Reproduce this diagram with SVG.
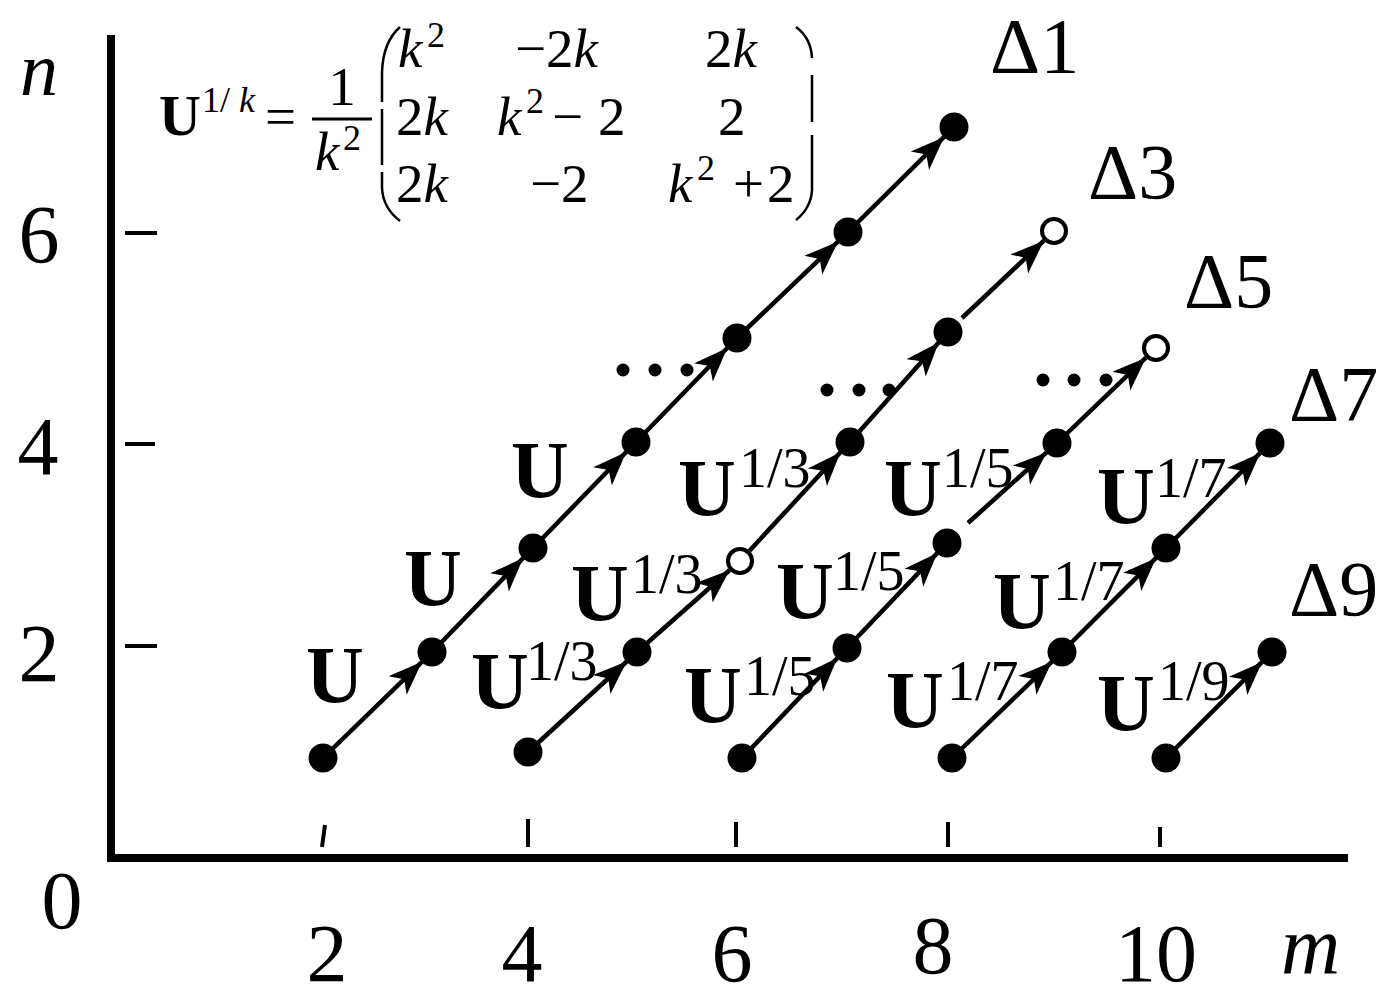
<svg xmlns="http://www.w3.org/2000/svg" width="1389" height="990" viewBox="0 0 1389 990">
<defs>
<style>
text{font-family:"Liberation Serif","Times New Roman",serif;fill:#000}
.ax{font-size:82px}
.it{font-style:italic}
.U{font-size:80px;font-weight:bold}
.sup{font-size:56px}
.dl{font-size:78px}
.mx{font-size:55px}
.ms{font-size:36px}
.conn{stroke:#000;stroke-width:4.5;fill:none;marker-end:url(#ah)}
.axis{stroke:#000;stroke-width:8;fill:none}
.tick{stroke:#000;stroke-width:4;fill:none}
.par{stroke:#000;stroke-width:2.5;fill:none}
.node{fill:#000}
.open{fill:#fff;stroke:#000;stroke-width:4}
.dot{fill:#000}
</style>
<marker id="ah" markerUnits="userSpaceOnUse" viewBox="0 0 36 28" markerWidth="36" markerHeight="28" refX="34" refY="14" orient="auto">
<path d="M0,1 L34,14 L0,27 L9,14 Z" fill="#000"/>
</marker>
</defs>
<rect width="1389" height="990" fill="#fff"/>

<g id="axes">
<line class="axis" x1="111" y1="35" x2="111" y2="862"/>
<line class="axis" x1="107" y1="858" x2="1348" y2="858"/>
<line class="tick" x1="125" y1="233" x2="157" y2="233"/>
<line class="tick" x1="125" y1="444" x2="155" y2="444"/>
<line class="tick" x1="125" y1="646" x2="157" y2="646"/>
<line class="tick" x1="325" y1="825" x2="322" y2="847"/>
<line class="tick" x1="528" y1="819" x2="528" y2="847"/>
<line class="tick" x1="736" y1="822" x2="736" y2="847"/>
<line class="tick" x1="948" y1="822" x2="948" y2="847"/>
<line class="tick" x1="1160" y1="827" x2="1160" y2="847"/>
<text class="ax it" x="20" y="95" style="font-size:76px">n</text>
<text class="ax" x="39" y="262" text-anchor="middle">6</text>
<text class="ax" x="38" y="474" text-anchor="middle">4</text>
<text class="ax" x="39" y="681" text-anchor="middle">2</text>
<text class="ax" x="62" y="928" text-anchor="middle">0</text>
<text class="ax" x="327" y="981" text-anchor="middle">2</text>
<text class="ax" x="522" y="981" text-anchor="middle">4</text>
<text class="ax" x="732" y="981" text-anchor="middle">6</text>
<text class="ax" x="933" y="973" text-anchor="middle">8</text>
<text class="ax" x="1156" y="981" text-anchor="middle">10</text>
<text class="ax it" x="1281" y="973">m</text>
</g>

<g id="formula">
<text class="U" x="159" y="135" style="font-size:58px">U</text>
<text class="ms" x="202" y="112">1/ <tspan class="it">k</tspan></text>
<text class="mx" x="265" y="135">=</text>
<text class="mx" x="342" y="105" text-anchor="middle">1</text>
<line x1="312" y1="119" x2="372" y2="119" stroke="#000" stroke-width="3"/>
<text class="mx it" x="315" y="170">k</text>
<text class="ms" x="343" y="150">2</text>
<path class="par" d="M400,27 Q383,42 382,72 L382,102"/>
<path class="par" d="M382,109 L382,165"/>
<path class="par" d="M382,172 L382,188 Q383,208 400,221"/>
<path class="par" d="M796,27 Q811,38 812,58"/>
<path class="par" d="M812,75 L812,122"/>
<path class="par" d="M812,135 L812,190 Q811,208 796,220"/>
<text class="mx it" x="398" y="67">k</text>
<text class="ms" x="427" y="47">2</text>
<text class="mx" x="515" y="67">−2<tspan class="it">k</tspan></text>
<text class="mx" x="705" y="67">2<tspan class="it">k</tspan></text>
<text class="mx" x="396" y="135">2<tspan class="it">k</tspan></text>
<text class="mx it" x="497" y="135">k</text>
<text class="ms" x="526" y="113">2</text>
<text class="mx" x="552" y="135">−</text>
<text class="mx" x="598" y="135">2</text>
<text class="mx" x="718" y="135">2</text>
<text class="mx" x="396" y="202">2<tspan class="it">k</tspan></text>
<text class="mx" x="530" y="202">−2</text>
<text class="mx it" x="668" y="202">k</text>
<text class="ms" x="697" y="180">2</text>
<text class="mx" x="733" y="202">+</text>
<text class="mx" x="767" y="202">2</text>
</g>

<g id="connectors">
<line class="conn" x1="323" y1="758" x2="422.0" y2="661.8"/>
<line class="conn" x1="432" y1="652" x2="523.2" y2="558.0"/>
<line class="conn" x1="533" y1="548" x2="626.2" y2="452.0"/>
<line class="conn" x1="636" y1="442" x2="727.2" y2="348.0"/>
<line class="conn" x1="737" y1="338" x2="837.9" y2="241.7"/>
<line class="conn" x1="848" y1="232" x2="944.1" y2="136.9"/>
<line class="conn" x1="528" y1="752" x2="626.7" y2="661.5"/>
<line class="conn" x1="637" y1="652" x2="729.5" y2="570.3"/>
<line class="conn" x1="749.5" y1="550.7" x2="840.5" y2="452.3"/>
<line class="conn" x1="850" y1="442" x2="938.7" y2="342.5"/>
<line class="conn" x1="962" y1="318" x2="1043.9" y2="240.7"/>
<line class="conn" x1="742" y1="758" x2="837.3" y2="658.1"/>
<line class="conn" x1="847" y1="648" x2="937.3" y2="553.1"/>
<line class="conn" x1="968" y1="523" x2="1046.6" y2="452.4"/>
<line class="conn" x1="1057" y1="443" x2="1145.9" y2="357.7"/>
<line class="conn" x1="952" y1="758" x2="1051.9" y2="661.7"/>
<line class="conn" x1="1062" y1="652" x2="1156.1" y2="557.9"/>
<line class="conn" x1="1166" y1="548" x2="1260.2" y2="452.9"/>
<line class="conn" x1="1166" y1="758" x2="1262.1" y2="661.9"/>
</g>

<g id="chain-d1">
<g id="d1-n1"><circle class="node" cx="323" cy="758" r="14.5"/></g>
<g id="d1-n2"><circle class="node" cx="432" cy="652" r="14.5"/></g>
<g id="d1-n3"><circle class="node" cx="533" cy="548" r="14.5"/></g>
<g id="d1-n4"><circle class="node" cx="636" cy="442" r="14.5"/></g>
<g id="d1-n5"><circle class="node" cx="737" cy="338" r="14.5"/></g>
<g id="d1-n6"><circle class="node" cx="848" cy="232" r="14.5"/></g>
<g id="d1-n7"><circle class="node" cx="954" cy="127" r="14.5"/></g>
</g>
<g id="chain-d3">
<g id="d3-n1"><circle class="node" cx="528" cy="752" r="14.5"/></g>
<g id="d3-n2"><circle class="node" cx="637" cy="652" r="14.5"/></g>
<g id="d3-n3"><circle class="open" cx="740" cy="561" r="12"/></g>
<g id="d3-n4"><circle class="node" cx="850" cy="442" r="14.5"/></g>
<g id="d3-n5"><circle class="node" cx="948" cy="332" r="14.5"/></g>
<g id="d3-n6"><circle class="open" cx="1054" cy="231" r="12"/></g>
</g>
<g id="chain-d5">
<g id="d5-n1"><circle class="node" cx="742" cy="758" r="14.5"/></g>
<g id="d5-n2"><circle class="node" cx="847" cy="648" r="14.5"/></g>
<g id="d5-n3"><circle class="node" cx="947" cy="543" r="14.5"/></g>
<g id="d5-n4"><circle class="node" cx="1057" cy="443" r="14.5"/></g>
<g id="d5-n5"><circle class="open" cx="1156" cy="348" r="12"/></g>
</g>
<g id="chain-d7">
<g id="d7-n1"><circle class="node" cx="952" cy="758" r="14.5"/></g>
<g id="d7-n2"><circle class="node" cx="1062" cy="652" r="14.5"/></g>
<g id="d7-n3"><circle class="node" cx="1166" cy="548" r="14.5"/></g>
<g id="d7-n4"><circle class="node" cx="1270" cy="443" r="14.5"/></g>
</g>
<g id="chain-d9">
<g id="d9-n1"><circle class="node" cx="1166" cy="758" r="14.5"/></g>
<g id="d9-n2"><circle class="node" cx="1272" cy="652" r="14.5"/></g>
</g>

<g id="ellipses">
<circle class="dot" cx="623" cy="370" r="6.5"/><circle class="dot" cx="655" cy="370" r="6.5"/><circle class="dot" cx="687" cy="370" r="6.5"/>
<circle class="dot" cx="827" cy="390" r="6.5"/><circle class="dot" cx="859" cy="390" r="6.5"/><circle class="dot" cx="889" cy="390" r="6.5"/>
<circle class="dot" cx="1043" cy="380" r="6.5"/><circle class="dot" cx="1074" cy="380" r="6.5"/><circle class="dot" cx="1106" cy="380" r="6.5"/>
</g>

<g id="delta-labels">
<text class="dl" x="990" y="72">Δ1</text>
<text class="dl" x="1088" y="198">Δ3</text>
<text class="dl" x="1184" y="307">Δ5</text>
<text class="dl" x="1289" y="420">Δ7</text>
<text class="dl" x="1289" y="615">Δ9</text>
</g>

<g id="operator-labels">
<text class="U" x="306" y="702">U</text>
<text class="U" x="404" y="605">U</text>
<text class="U" x="511" y="497">U</text>
<text class="U" x="471" y="708">U</text><text class="sup" x="526" y="680">1/3</text>
<text class="U" x="571" y="620">U</text><text class="sup" x="631" y="593">1/3</text>
<text class="U" x="678" y="515">U</text><text class="sup" x="739" y="487">1/3</text>
<text class="U" x="684" y="722">U</text><text class="sup" x="744" y="695">1/5</text>
<text class="U" x="776" y="618">U</text><text class="sup" x="833" y="590">1/5</text>
<text class="U" x="884" y="515">U</text><text class="sup" x="942" y="487">1/5</text>
<text class="U" x="886" y="727">U</text><text class="sup" x="947" y="700">1/7</text>
<text class="U" x="993" y="628">U</text><text class="sup" x="1053" y="600">1/7</text>
<text class="U" x="1097" y="523">U</text><text class="sup" x="1155" y="497">1/7</text>
<text class="U" x="1097" y="730">U</text><text class="sup" x="1158" y="700">1/9</text>
</g>
</svg>
